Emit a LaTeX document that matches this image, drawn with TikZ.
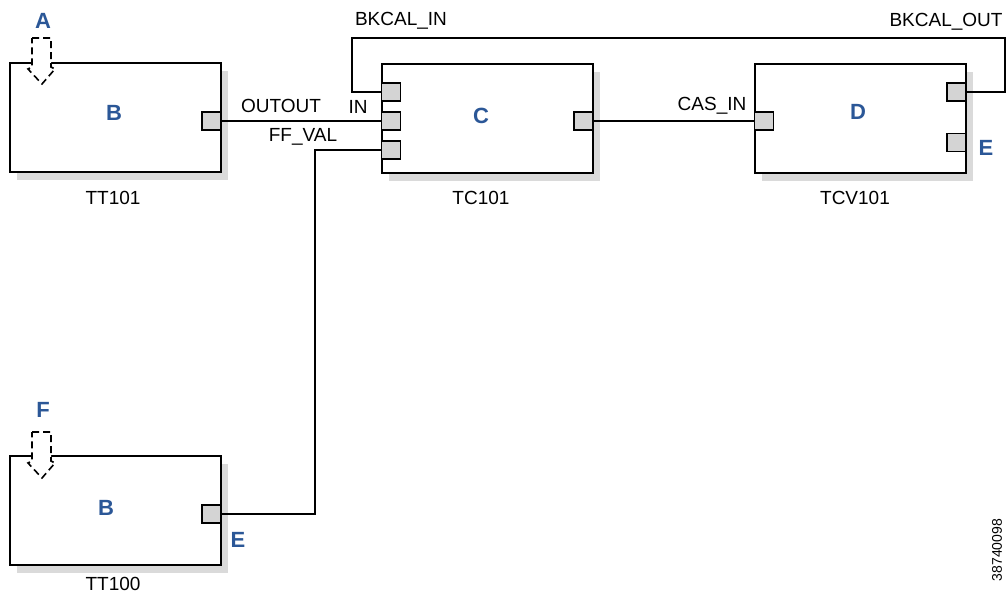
\documentclass[tikz,border=0pt]{standalone}
\usepackage{fontspec}
\setmainfont{Liberation Sans}
\usetikzlibrary{
  positioning,
  shadows
}
\definecolor{tag}{HTML}{2B5797}
\definecolor{portgray}{HTML}{D4D4D4}
\definecolor{shade}{HTML}{DADADA}

\begin{document}
\begin{tikzpicture}[x=1pt, y=-1pt,
  block/.style={draw, line width=2pt, fill=white, minimum width=211pt,
                minimum height=109pt, inner sep=0pt,
                drop shadow={shadow xshift=7pt, shadow yshift=-8pt, fill=shade, opacity=1}},
  port/.style={draw, line width=1.6pt, fill=portgray, minimum width=19pt,
               minimum height=18pt, inner sep=0pt},
  wire/.style={line width=1.6pt},
  probe/.style={draw, line width=1.6pt, dash pattern=on 7pt off 4pt, fill=white},
  tagtxt/.style={text=tag, inner sep=0pt, font=\fontsize{22}{26}\selectfont\bfseries},
  sig/.style={inner sep=0pt, font=\fontsize{19}{22}\selectfont},
]
  \useasboundingbox (0,0) rectangle (1006,595);

  % function blocks
  \node[block] (tt101) at (115.5, 117) {};
  \node[block] (tc101) at (487.5, 118.5) {};
  \node[block] (tcv101) at (860.5, 118.5) {};
  \node[block] (tt100) at (115.5, 510.5) {};

  % ports
  \node[port] (tt101out) at (211.5, 121) {};
  \node[port] (tc101bk) at (391, 92) {};
  \node[port] (tc101in) at (391, 121) {};
  \node[port] (tc101ff) at (391, 150) {};
  \node[port] (tc101out) at (583.5, 121) {};
  \node[port] (tcv101cas) at (764, 121) {};
  \node[port] (tcv101bk) at (956.5, 92) {};
  \node[port] (tcv101e) at (956.5, 142.5) {};
  \node[port] (tt100out) at (211.5, 514) {};

  % dashed drop arrows
  \draw[probe] (32,38) -- (51,38) -- (51,67) -- (55,69) -- (42,84) -- (28,69) -- (32,67) -- cycle;
  \draw[probe, shift={(0,394)}] (32,38) -- (51,38) -- (51,67) -- (55,69) -- (42,84) -- (28,69) -- (32,67) -- cycle;

  % wiring
  \coordinate (ffbend) at (315, 330);
  \coordinate (loopR) at (1005, 38);
  \coordinate (loopL) at (352, 38);
  \draw[wire] (tt101out.east) -- (tc101in.west);
  \draw[wire] (tc101out.east) -- (tcv101cas.west);
  \draw[wire] (tt100out.east) -| (ffbend) |- (tc101ff.west);
  \draw[wire] (tcv101bk.east) -| (loopR) -- (loopL) |- (tc101bk.west);

  % signal names
  \node[sig] (outlbl) at (281, 106) {OUTOUT};
  \node[sig] (inlbl) at (358, 107) {IN};
  \node[sig] (fflbl) at (303, 137) {FF\_VAL};
  \node[sig] (bkinlbl) at (401, 21) {BKCAL\_IN};
  \node[sig] (bkoutlbl) at (946, 22) {BKCAL\_OUT};
  \node[sig] (caslbl) at (712, 106) {CAS\_IN};

  % tags
  \node[sig] (tt101name) at (113, 198) {TT101};
  \node[sig] (tc101name) at (481, 198) {TC101};
  \node[sig] (tcv101name) at (855, 198) {TCV101};
  \node[sig] (tt100name) at (113, 584) {TT100};

  % callouts
  \node[tagtxt] (ca) at (43, 21) {A};
  \node[tagtxt] (cb1) at (114, 113) {B};
  \node[tagtxt] (cc) at (481, 116) {C};
  \node[tagtxt] (cd) at (858, 112) {D};
  \node[tagtxt] (ce1) at (986, 148) {E};
  \node[tagtxt] (cf) at (43, 410) {F};
  \node[tagtxt] (cb2) at (106, 508) {B};
  \node[tagtxt] (ce2) at (238, 540) {E};

  \node[inner sep=0pt, rotate=90, font=\fontsize{14}{16}\selectfont] (figno) at (997, 550) {38740098};
\end{tikzpicture}
\end{document}
